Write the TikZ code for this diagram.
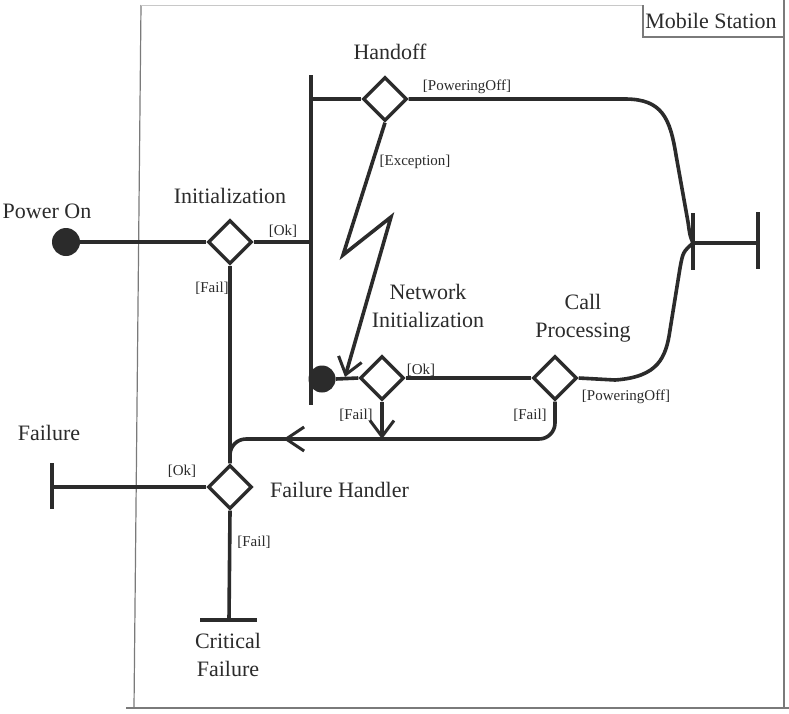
\documentclass[tikz,border=0pt]{standalone}
\usepackage{fontspec}
\setmainfont{Liberation Serif}
\usetikzlibrary{shapes.geometric,arrows.meta,decorations.markings}
\definecolor{ink}{HTML}{2B2B2B}
\definecolor{framec}{HTML}{7A7A7A}
\definecolor{faint}{HTML}{C8C8C8}
\begin{document}
\begin{tikzpicture}[x=1pt,y=-1pt,
 flow/.style={draw=ink,line width=3.6pt},
 dec/.style={diamond,draw=ink,line width=3.4pt,minimum width=44pt,minimum height=44pt,inner sep=0pt},
 startdot/.style={circle,fill=ink,inner sep=0pt,minimum size=#1},
 lbl/.style={text=ink,font=\fontsize{22}{28}\selectfont,align=center,inner sep=0pt},
 guard/.style={text=ink,font=\fontsize{15}{18}\selectfont,inner sep=0pt},
 barb/.style={-{Straight Barb[length=16pt,width=24pt,line width=3pt]}},
 framel/.style={draw=framec,line width=1.2pt}]
\useasboundingbox (0,0) rectangle (789,713);
\fill[white] (0,0) rectangle (789,713);
% frame
\draw[framel] (141,5) -- (134,708);
\draw[framel] (126,708) -- (789,708);
\draw[framel] (784,0) -- (784,708);
\draw[draw=faint,line width=1pt] (141,5) -- (643,5);
\draw[framel] (643,5) -- (643,37) -- (784,37);
\node[lbl] (ms) at (711,21) {Mobile Station};
% nodes
\node[startdot=28pt] (pon) at (66,242) {};
\node[dec] (init) at (230,242) {};
\node[dec] (hand) at (385,99) {};
\node[startdot=27pt] (nstart) at (322,379) {};
\node[dec] (ninit) at (382,378) {};
\node[dec] (cp) at (555,378) {};
\node[dec] (fh) at (230,487) {};
\coordinate (forkT) at (311,75);
\coordinate (forkB) at (311,405);
\coordinate (join) at (693,243);
\coordinate (joinT) at (693,213);
\coordinate (joinB) at (693,270);
\coordinate (fin) at (758,243);
\coordinate (finT) at (758,212);
\coordinate (finB) at (758,269);
\coordinate (fail) at (52,487);
\coordinate (failT) at (52,463);
\coordinate (failB) at (52,509);
\coordinate (crit) at (229,620);
\coordinate (critL) at (200,620);
\coordinate (critR) at (257,620);
\coordinate (nfail) at (382,439);
% bars
\draw[flow] (forkT) -- (forkB);
\draw[flow] (joinT) -- (joinB);
\draw[flow] (finT) -- (finB);
\draw[flow] (failT) -- (failB);
\draw[flow] (critL) -- (critR);
% flows
\draw[flow] (pon.east) -- (init.west);
\draw[flow] (init.east) -- (init.east -| forkT);
\draw[flow] (init.south) -- (fh.north);
\draw[flow] (hand.west -| forkT) -- (hand.west);
\draw[flow] (hand.east) -- (625,99) .. controls (662,99) and (670,118) .. (676,155) -- (688,222) .. controls (690,236) .. (join);
\draw[flow] (cp.east) -- (615,380) .. controls (658,377) and (666,358) .. (670,330) -- (680,268) .. controls (683,252) .. (join);
\draw[flow] (join) -- (fin);
\draw[flow,barb] (hand.south) -- (343,255) -- (391,217) -- (345,377);
\draw[flow] (nstart.east) -- (ninit.west);
\draw[flow] (ninit.east) -- (cp.west);
\draw[flow,barb] (ninit.south) -- (nfail);
\draw[flow,rounded corners=16pt,
  postaction={decorate},
  decoration={markings,mark=at position 0.81 with {\arrow{Straight Barb[length=18pt,width=24pt,line width=3pt]}}}]
  (cp.south) -- (555,439) -- (230,439) -- (fh.north);
\draw[flow] (fh.west) -- (fail);
\draw[flow] (fh.south) -- (crit);
% labels
\node[lbl] (lpon) at (47,211) {Power On};
\node[lbl] (linit) at (230,196) {Initialization};
\node[guard] (gok1) at (283,231) {[Ok]};
\node[guard] (gfail1) at (212,288) {[Fail]};
\node[lbl] (lhand) at (390,52) {Handoff};
\node[guard] (gpo1) at (467,87) {[PoweringOff]};
\node[guard] (gexc) at (415,162) {[Exception]};
\node[lbl] (lninit) at (428,306) {Network\\Initialization};
\node[lbl] (lcp) at (583,318) {Call\\Processing};
\node[guard] (gok2) at (421,370) {[Ok]};
\node[guard] (gpo2) at (626,397) {[PoweringOff]};
\node[guard] (gfail2) at (356,415) {[Fail]};
\node[guard] (gfail3) at (530,415) {[Fail]};
\node[lbl] (lfail) at (49,433) {Failure};
\node[guard] (gok3) at (182,471) {[Ok]};
\node[lbl,anchor=west] (lfh) at (270,490) {Failure Handler};
\node[guard] (gfail4) at (254,542) {[Fail]};
\node[lbl] (lcrit) at (228,655) {Critical\\Failure};
\end{tikzpicture}
\end{document}
